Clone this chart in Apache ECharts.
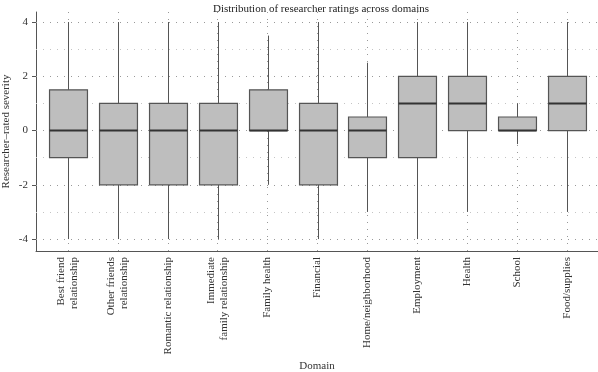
<!DOCTYPE html>
<html><head><meta charset="utf-8">
<script src="https://cdn.jsdelivr.net/npm/echarts@6/dist/echarts.min.js"></script>
<style>html,body{margin:0;padding:0;background:#fff}#c{width:598px;height:372px}</style>
</head><body><div id="c"></div>
<script>
const categories = ['Best friend\nrelationship','Other friends\nrelationship','Romantic relationship','Immediate\nfamily relationship','Family health','Financial','Home/neighborhood','Employment','Health','School','Food/supplies'];
const whiskerLow  = [-4, -4, -4, -4, -2, -4, -3, -4, -3, -0.5, -3];
const q1          = [-1, -2, -2, -2,  0, -2, -1, -1,  0,  0,    0];
const median      = [ 0,  0,  0,  0,  0,  0,  0,  1,  1,  0,    1];
const q3          = [1.5, 1,  1,  1, 1.5, 1, 0.5, 2,  2,  0.5,  2];
const whiskerHigh = [ 4,  4,  4,  4, 3.5, 4, 2.5, 4,  4,  1,    4];
const yTickValues = [-4, -2, 0, 2, 4];
const gridLevels = [-4, -3, -2, -1, 0, 1, 2, 3, 4];
const Y_MIN = -4.44, Y_MAX = 4.37;
const FONT = "'Liberation Serif', 'DejaVu Serif', serif";

const chart = echarts.init(document.getElementById('c'), null, {renderer: 'canvas'});
const boxData = categories.map((c, i) => [c, whiskerLow[i], q1[i], median[i], q3[i], whiskerHigh[i]]);

chart.setOption({
  animation: false,
  backgroundColor: '#fff',
  title: {
    text: 'Distribution of researcher ratings across domains',
    left: 208, top: -1,
    textStyle: {fontFamily: FONT, fontSize: 11, fontWeight: 'normal', color: '#222'}
  },
  grid: [
    {left: 43, right: 6, top: 12, bottom: 121, containLabel: false, outerBoundsMode: 'none'},
    {left: 36, right: 0, top: 12, bottom: 121, containLabel: false, outerBoundsMode: 'none'}
  ],
  xAxis: [
    {
      type: 'category', gridIndex: 0, data: categories,
      axisLine: {show: false}, axisTick: {show: false}, splitLine: {show: false},
      axisLabel: {rotate: 90, interval: 0, fontFamily: FONT, fontSize: 11, color: '#333', margin: 6, lineHeight: 13}
    },
    {
      type: 'value', gridIndex: 1, min: 0, max: 1,
      axisLine: {show: true, onZero: false, lineStyle: {color: '#555', width: 1}},
      axisTick: {show: false}, axisLabel: {show: false}, splitLine: {show: false},
      name: 'Domain', nameLocation: 'middle', nameGap: 110, nameMoveOverlap: false,
      nameTextStyle: {fontFamily: FONT, fontSize: 11, color: '#333'}
    }
  ],
  yAxis: [
    {type: 'value', gridIndex: 0, min: Y_MIN, max: Y_MAX, show: false},
    {
      type: 'value', gridIndex: 1, min: Y_MIN, max: Y_MAX,
      axisLine: {show: true, onZero: false, lineStyle: {color: '#555', width: 1}},
      axisTick: {show: true, customValues: yTickValues, length: 4, lineStyle: {color: '#555'}},
      axisLabel: {customValues: yTickValues, fontFamily: FONT, fontSize: 11, color: '#333', margin: 8},
      splitLine: {show: false},
      name: 'Researcher\u2013rated severity', nameLocation: 'middle', nameGap: 24, nameMoveOverlap: false,
      nameTextStyle: {fontFamily: FONT, fontSize: 11, color: '#333'}
    }
  ],
  series: [
    {
      type: 'line', xAxisIndex: 1, yAxisIndex: 1, data: [], z: 1, silent: true,
      markLine: {
        z: 1, silent: true, symbol: 'none', label: {show: false}, animation: false,
        data: gridLevels.map(v => ({yAxis: v, lineStyle: {type: [1, 6], color: v % 2 === 0 ? '#999' : '#c4c4c4', width: 1}}))
      }
    },
    {
      type: 'line', xAxisIndex: 0, yAxisIndex: 0, data: [], z: 1, silent: true,
      markLine: {
        z: 1, silent: true, symbol: 'none', label: {show: false}, animation: false,
        lineStyle: {type: [1, 6], color: '#999', width: 1},
        data: categories.map(c => ({xAxis: c}))
      }
    },
    {
      type: 'custom', xAxisIndex: 0, yAxisIndex: 0, z: 10, silent: true,
      data: boxData,
      encode: {x: 0, y: [1, 2, 3, 4, 5]},
      renderItem: function (params, api) {
        const x = api.value(0);
        const lo = api.coord([x, api.value(1)]);
        const b1 = api.coord([x, api.value(2)]);
        const m = api.coord([x, api.value(3)]);
        const b3 = api.coord([x, api.value(4)]);
        const hi = api.coord([x, api.value(5)]);
        const bw = api.size([1, 0])[0] * 0.76;
        const cx = Math.round(lo[0]) + 0.5;
        return {
          type: 'group',
          children: [
            {type: 'line', shape: {x1: cx, y1: hi[1], x2: cx, y2: b3[1]}, style: {stroke: '#555', lineWidth: 1}},
            {type: 'line', shape: {x1: cx, y1: b1[1], x2: cx, y2: lo[1]}, style: {stroke: '#555', lineWidth: 1}},
            {type: 'rect', shape: {x: cx - bw / 2, y: b3[1], width: bw, height: b1[1] - b3[1]}, style: {fill: '#bebebe', stroke: '#555', lineWidth: 1.2}},
            {type: 'line', shape: {x1: cx - bw / 2, y1: m[1], x2: cx + bw / 2, y2: m[1]}, style: {stroke: '#333', lineWidth: 2}}
          ]
        };
      }
    }
  ]
});
</script>
</body></html>
